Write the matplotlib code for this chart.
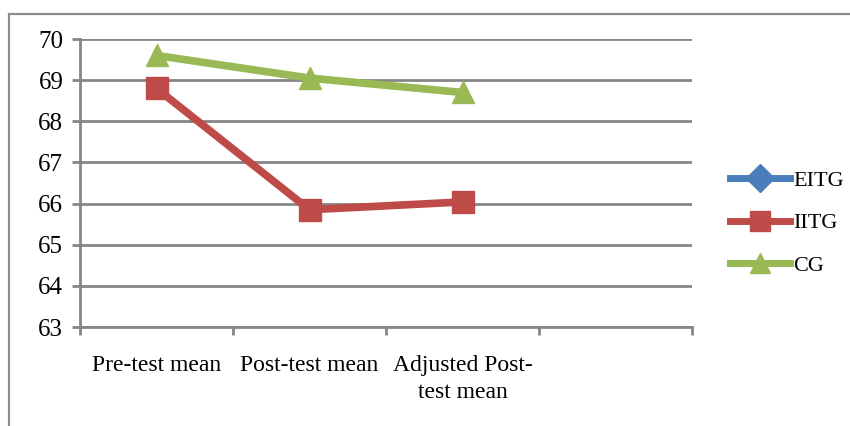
import matplotlib
matplotlib.use("Agg")
import matplotlib.pyplot as plt
from matplotlib.patches import Rectangle
from matplotlib.ticker import FixedLocator, NullFormatter

categories = ["Pre-test mean", "Post-test mean", "Adjusted Post-\ntest mean"]
eitg = [68.83, 65.87, 66.06]
iitg = [68.80, 65.85, 66.04]
cg = [69.60, 69.05, 68.70]
yticks = [63, 64, 65, 66, 67, 68, 69, 70]

plt.rcParams['font.family'] = ['Liberation Serif', 'DejaVu Serif']

W, H = 850, 426
fig = plt.figure(figsize=(8.5, 4.26), dpi=100)
ax = fig.add_axes([80 / W, 1 - 327 / H, (692 - 80) / W, (327 - 39) / H])

# outer frame
fig.patches.append(Rectangle((9 / W, -0.1), 1.2, 1 - 14 / H + 0.1, transform=fig.transFigure,
                             fill=False, edgecolor='#8c8c8c', linewidth=1.6, zorder=0))

x = list(range(len(categories)))
ax.plot(x, eitg, color='#4a7ebb', linewidth=3, marker='D', markersize=10, label='EITG', zorder=3)
ax.plot(x, iitg, color='#be4b48', linewidth=5.5, marker='s', markersize=16, label='IITG', zorder=4)
ax.plot(x, cg, color='#98b954', linewidth=5.5, marker='^', markersize=16, label='CG', zorder=5)

ax.set_xlim(-0.5, 3.5)
ax.set_ylim(63, 70)
ax.set_yticks(yticks)
ax.yaxis.grid(True, color='#868686', linewidth=2)
ax.set_axisbelow(True)

ax.xaxis.set_major_locator(FixedLocator([-0.5, 0.5, 1.5, 2.5, 3.5]))
ax.xaxis.set_major_formatter(NullFormatter())
ax.xaxis.set_minor_locator(FixedLocator(x))
ax.set_xticklabels(categories, minor=True, linespacing=1.4)
ax.tick_params(axis='x', which='minor', length=0, pad=20, labelsize=17)
ax.tick_params(axis='x', which='major', length=6, width=2, color='#868686')
ax.tick_params(axis='y', length=6, width=2, color='#868686', labelsize=18, pad=6)

for s in ['top', 'right']:
    ax.spines[s].set_visible(False)
for s in ['left', 'bottom']:
    ax.spines[s].set_color('#868686')
    ax.spines[s].set_linewidth(2)

leg = fig.legend(loc='center left', bbox_to_anchor=(730 / W, 1 - 223 / H), frameon=False,
                 fontsize=16, handlelength=2.7, labelspacing=1.0, handletextpad=0.15,
                 borderpad=0, borderaxespad=0)
leg.legend_handles[0].set_linewidth(5)
leg.legend_handles[1].set_linewidth(5)
leg.legend_handles[2].set_linewidth(5)
leg.legend_handles[0].set_markersize(14)
leg.legend_handles[1].set_markersize(14)
leg.legend_handles[2].set_markersize(14)

fig.savefig('out.png', dpi=100)
